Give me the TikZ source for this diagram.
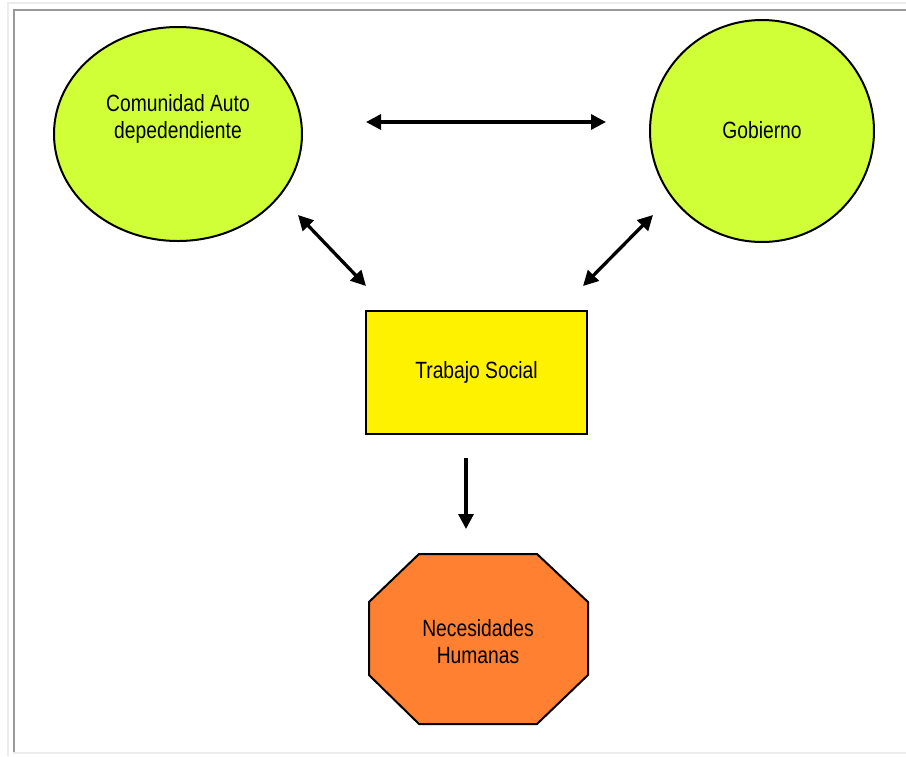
\documentclass[tikz,border=0pt]{standalone}
\usepackage{fontspec}
\setmainfont{Liberation Sans}[FakeStretch=0.82]
\usetikzlibrary{arrows.meta}
\definecolor{lime}{RGB}{208,255,56}
\definecolor{orng}{RGB}{255,128,48}
\definecolor{lightframe}{RGB}{236,236,236}
\definecolor{darkframe}{RGB}{153,153,153}
\tikzset{
  lbl/.style={font=\fontsize{23.5}{27}\selectfont, align=center, text=black},
  arr/.style={line width=3.3pt, -{Triangle[length=15pt,width=15pt]}},
  darr/.style={line width=3.3pt, {Triangle[length=15pt,width=15pt]}-{Triangle[length=15pt,width=15pt]}},
}
\begin{document}
\begin{tikzpicture}[x=1pt,y=-1pt]
\useasboundingbox (0,0) rectangle (906,756);
\fill[white] (0,0) rectangle (906,756);
% frame
\draw[lightframe, line width=2pt] (7.5,756) -- (7.5,3) -- (906,3);
\draw[lightframe, line width=2pt] (13,753) -- (906,753);
\draw[darkframe, line width=2pt] (14,752) -- (14,10) -- (906,10);
% shapes
\filldraw[fill=lime, draw=black, line width=2pt] (178,134) ellipse [x radius=124, y radius=107];
\filldraw[fill=lime, draw=black, line width=2pt] (762,131) ellipse [x radius=112, y radius=111];
\node[lbl] (com) at (178,119) {Comunidad Auto\\depedendiente};
\node[lbl] (gob) at (762,130) {Gobierno};
\node[lbl, draw=black, fill=yellow, line width=2pt, minimum width=221pt, minimum height=123pt, inner sep=0pt] (ts) at (476.5,372.5) {Trabajo Social};
\filldraw[fill=orng, draw=black, line width=2pt]
  (419,554) -- (537,554) -- (588,602) -- (588,675) -- (537,724) -- (419,724) -- (369,675) -- (369,602) -- cycle;
\node[lbl] (nec) at (478,642) {Necesidades\\Humanas};
% arrow ends
\coordinate (t1) at (366,122);
\coordinate (t2) at (606,122);
\coordinate (l1) at (298,215);
\coordinate (l2) at (366,286);
\coordinate (r1) at (653,215);
\coordinate (r2) at (583,286);
\coordinate (d1) at (466,458);
\coordinate (d2) at (466,529);
\draw[darr] (t1) -- (t2);
\draw[darr] (l1) -- (l2);
\draw[darr] (r1) -- (r2);
\draw[arr] (d1) -- (d2);
\end{tikzpicture}
\end{document}
